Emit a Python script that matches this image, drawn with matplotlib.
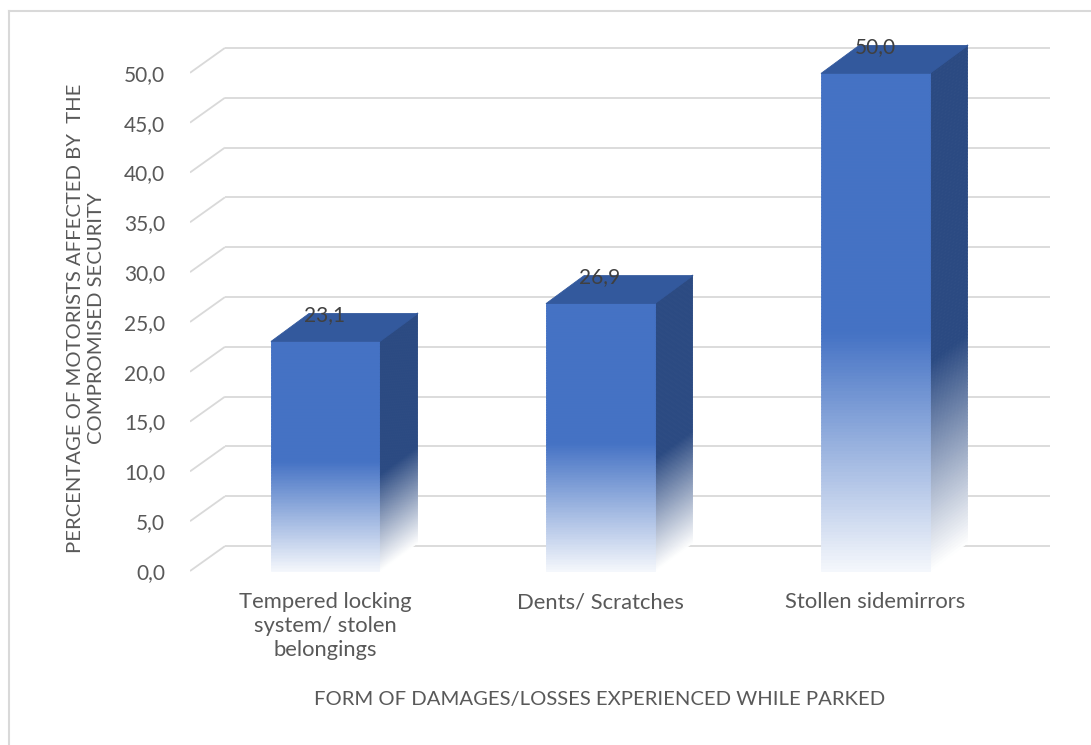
import numpy as np
import matplotlib
matplotlib.use("Agg")
import matplotlib.pyplot as plt
from matplotlib.collections import PolyCollection
from matplotlib.lines import Line2D
from matplotlib.colors import to_rgb

# ---- data ----
categories = ["Tempered locking\nsystem/ stolen\nbelongings",
              "Dents/ Scratches",
              "Stollen sidemirrors"]
values = [23.1, 26.9, 50.0]
yticks = np.arange(0, 55, 5)
ytick_labels = [f"{t:.1f}".replace(".", ",") for t in yticks]
value_labels = [f"{v:.1f}".replace(".", ",") for v in values]

# ---- style ----
plt.rcParams["font.family"] = ["Lato", "DejaVu Sans"]
TXT = "#595959"
GRID = "#D9D9D9"
FRONT = to_rgb("#4472C4")
SIDE = to_rgb("#2B4A82")
TOP = to_rgb("#33599D")
WHITE = np.array([1.0, 1.0, 1.0])
FS = 15

W, H = 1091, 745
fig = plt.figure(figsize=(W / 100, H / 100), dpi=100)
ax = fig.add_axes([190 / W, (H - 580) / H, 860 / W, 550 / H])
xl, xr = -0.491, 2.636
ax.set_xlim(xl, xr)
ax.set_ylim(-0.9, 54.3)

# pseudo-3D depth offsets (data units)
wall_dx, wall_dy = 0.127, 2.5
bar_dx, bar_dy = 0.138, 2.8
half_w = 0.198

# back wall gridlines plus the side-wall diagonals
for t in yticks:
    ax.plot([xl, xl + wall_dx], [t, t + wall_dy], color=GRID, lw=1.3,
            zorder=0, solid_capstyle="butt")
    ax.plot([xl + wall_dx, xr], [t + wall_dy, t + wall_dy], color=GRID,
            lw=1.3, zorder=0, solid_capstyle="butt")


def shade(base, t, fade=0.48, floor=0.05):
    """Blend a colour towards white in the lower part of a bar."""
    if t >= fade:
        k = 1.0
    else:
        k = floor + (1 - floor) * (t / fade)
    return tuple(WHITE + (np.array(base) - WHITE) * k)


n = 160
for i, v in enumerate(values):
    x0, x1 = i - half_w, i + half_w
    ys = np.linspace(0, v, n + 1)
    front, side, fc_f, fc_s = [], [], [], []
    for a, b in zip(ys[:-1], ys[1:]):
        t = (a + b) / 2 / v
        front.append([(x0, a), (x1, a), (x1, b), (x0, b)])
        side.append([(x1, a), (x1 + bar_dx, a + bar_dy),
                     (x1 + bar_dx, b + bar_dy), (x1, b)])
        fc_f.append(shade(FRONT, t))
        fc_s.append(shade(SIDE, t, fade=0.42, floor=0.0))
    ax.add_collection(PolyCollection(side, facecolors=fc_s, edgecolors=fc_s,
                                     linewidths=0.6, zorder=2))
    ax.add_collection(PolyCollection(front, facecolors=fc_f, edgecolors=fc_f,
                                     linewidths=0.6, zorder=3))
    top = [(x0, v), (x1, v), (x1 + bar_dx, v + bar_dy), (x0 + bar_dx, v + bar_dy)]
    ax.add_collection(PolyCollection([top], facecolors=[TOP], edgecolors=[TOP],
                                     linewidths=0.6, zorder=3))
    ax.text(i, v + bar_dy, value_labels[i], ha="center", va="center_baseline",
            fontsize=FS, color="#404040", zorder=5)

ax.set_yticks(yticks, ytick_labels)
ax.set_xticks(range(len(categories)), categories)
ax.tick_params(axis="y", length=0, pad=18, labelsize=FS, labelcolor=TXT)
ax.tick_params(axis="x", length=0, pad=9, labelsize=15.8, labelcolor=TXT)
for lab in ax.get_xticklabels():
    lab.set_linespacing(1.25)
for s in ax.spines.values():
    s.set_visible(False)

fig.text(86 / W, 1 - 318 / H,
         "PERCENTAGE OF MOTORISTS AFFECTED BY  THE\nCOMPROMISED SECURITY",
         rotation=90, ha="center", va="center", multialignment="center",
         fontsize=14.6, color=TXT, linespacing=1.3)
fig.text(600 / W, 1 - 700 / H, "FORM OF DAMAGES/LOSSES EXPERIENCED WHILE PARKED",
         ha="center", va="center", fontsize=14.6, color=TXT)

# chart area border (top and left edges)
fig.add_artist(Line2D([9 / W, 1.0], [1 - 11 / H, 1 - 11 / H],
                      transform=fig.transFigure, color=GRID, lw=1.5))
fig.add_artist(Line2D([9 / W, 9 / W], [0.0, 1 - 11 / H],
                      transform=fig.transFigure, color=GRID, lw=1.5))

fig.savefig("out.png", dpi=100)
